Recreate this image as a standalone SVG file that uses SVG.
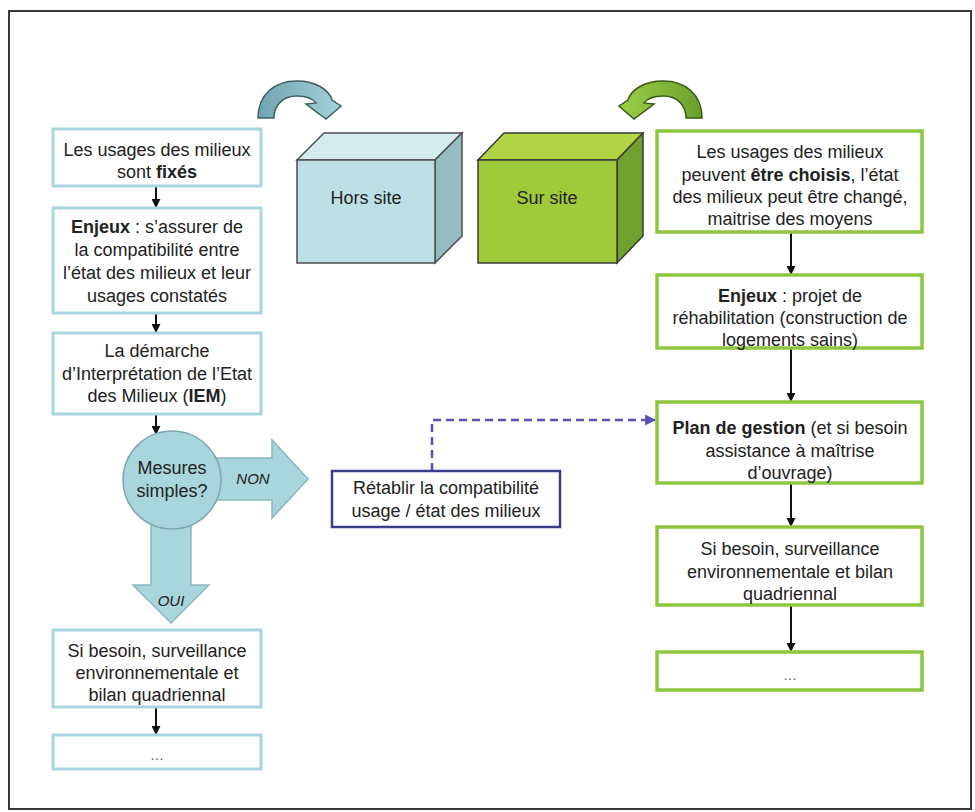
<svg xmlns="http://www.w3.org/2000/svg" width="975" height="812" viewBox="0 0 975 812">
<defs>
<style>
.t{font-family:"Liberation Sans",Arial,sans-serif;font-size:18px;fill:#222;text-anchor:middle}
.b{font-weight:bold}
.lab{font-family:"Liberation Sans",Arial,sans-serif;font-size:15px;font-style:italic;fill:#222;text-anchor:middle}
.lb{fill:#fff;stroke:#a9d6de;stroke-width:3}
.gb{fill:#fff;stroke:#8dc63f;stroke-width:3.5}
.bb{fill:#fff;stroke:#3c3c8c;stroke-width:2.5}
.blk{fill:#a9d5dd;stroke:#8cb6be;stroke-width:1.5}
.cn{stroke:#111;stroke-width:2;fill:none;marker-end:url(#ah)}
.dots{font-family:"Liberation Sans",Arial,sans-serif;font-size:14px;fill:#555;text-anchor:middle}
</style>
<marker id="ah" viewBox="0 0 10 10" refX="9" refY="5" markerWidth="9" markerHeight="9" markerUnits="userSpaceOnUse" orient="auto"><path d="M0,0 L10,5 L0,10 z" fill="#111"/></marker>
<marker id="ahp" viewBox="0 0 10 10" refX="9" refY="5" markerWidth="11" markerHeight="11" markerUnits="userSpaceOnUse" orient="auto"><path d="M0,0 L10,5 L0,10 z" fill="#5a4fb5"/></marker>
<linearGradient id="gblue" x1="0" y1="0" x2="1" y2="0"><stop offset="0" stop-color="#6fa4ae"/><stop offset="1" stop-color="#a6d2da"/></linearGradient>
<linearGradient id="ggreen" x1="0" y1="0" x2="1" y2="0"><stop offset="0" stop-color="#9ccf45"/><stop offset="1" stop-color="#6a9f2c"/></linearGradient>
</defs>
<rect x="0" y="0" width="975" height="812" fill="#fff"/>
<rect x="9" y="11" width="962" height="798" fill="none" stroke="#3a3a3a" stroke-width="2"/>

<g id="arrow-blue">
<path d="M258 118 C258 94 275 81 297 81 C316 81 329 90 332 100 L341 106 L326 119 L306 104 L316 103 C313 99 306 96 297 96 C283 96 274 105 274 118 Z" fill="url(#gblue)" stroke="#3f5f63" stroke-width="1.5"/>
</g>
<g id="arrow-green">
<path d="M702 118 C702 94 685 81 663 81 C644 81 631 90 628 100 L619 106 L634 119 L654 104 L644 103 C647 99 654 96 663 96 C677 96 686 105 686 118 Z" fill="url(#ggreen)" stroke="#3a5a1a" stroke-width="1.5"/>
</g>

<g id="hors-site">
<polygon points="297,160 324,133 462,133 435,160" fill="#d4ecf0" stroke="#4d4d4d" stroke-width="1.5"/>
<polygon points="435,160 462,133 462,236 435,263" fill="#94bcc2" stroke="#4d4d4d" stroke-width="1.5"/>
<rect x="297" y="160" width="138" height="103" fill="#bde0e6" stroke="#4d4d4d" stroke-width="1.5"/>
<text class="t" x="366" y="204">Hors site</text>
</g>
<g id="sur-site">
<polygon points="478,160 504,133 643,133 617,160" fill="#b0d443" stroke="#3a3a3a" stroke-width="1.5"/>
<polygon points="617,160 643,133 643,236 617,263" fill="#72a02f" stroke="#3a3a3a" stroke-width="1.5"/>
<rect x="478" y="160" width="139" height="103" fill="#9fcb3a" stroke="#3a3a3a" stroke-width="1.5"/>
<text class="t" x="547" y="204">Sur site</text>
</g>

<g id="connectors">
<line class="cn" x1="156" y1="186" x2="156" y2="207"/>
<line class="cn" x1="156" y1="313" x2="156" y2="332"/>
<line class="cn" x1="156" y1="415" x2="156" y2="434"/>
<line class="cn" x1="156" y1="708" x2="156" y2="734"/>
<line class="cn" x1="791" y1="233" x2="791" y2="274"/>
<line class="cn" x1="791" y1="349" x2="791" y2="401"/>
<line class="cn" x1="791" y1="484" x2="791" y2="526"/>
<line class="cn" x1="791" y1="606" x2="791" y2="651"/>
<path d="M432 471 V420 H655" fill="none" stroke="#5a4fb5" stroke-width="2.5" stroke-dasharray="8,5" marker-end="url(#ahp)"/>
<polygon id="arrow-non" class="blk" points="205,458 272,458 272,440 308,479 272,518 272,500 205,500"/>
<polygon id="arrow-oui" class="blk" points="151,515 191,515 191,585 209,585 171,623 133,585 151,585"/>
<text class="lab" x="253" y="484">NON</text>
<text class="lab" x="171" y="606">OUI</text>
</g>

<g id="L1">
<rect class="lb" x="53" y="129" width="208" height="57"/>
<text class="t" x="157" y="156">Les usages des milieux</text>
<text class="t" x="157" y="178">sont <tspan class="b">fixés</tspan></text>
</g>
<g id="L2">
<rect class="lb" x="53" y="208" width="208" height="105"/>
<text class="t" x="157" y="233"><tspan class="b">Enjeux</tspan> : s’assurer de</text>
<text class="t" x="157" y="256">la compatibilité entre</text>
<text class="t" x="157" y="279">l’état des milieux et leur</text>
<text class="t" x="157" y="302">usages constatés</text>
</g>
<g id="L3">
<rect class="lb" x="53" y="333" width="208" height="81"/>
<text class="t" x="157" y="357">La démarche</text>
<text class="t" x="157" y="380">d’Interprétation de l’Etat</text>
<text class="t" x="157" y="402">des Milieux (<tspan class="b">IEM</tspan>)</text>
</g>
<g id="decision">
<circle cx="172" cy="480" r="49" fill="#a9d5dd" stroke="#7fa9b1" stroke-width="1.5"/>
<text class="t" x="172" y="474">Mesures</text>
<text class="t" x="172" y="497">simples?</text>
</g>
<g id="L4">
<rect class="lb" x="53" y="630" width="208" height="77"/>
<text class="t" x="157" y="657">Si besoin, surveillance</text>
<text class="t" x="157" y="679">environnementale et</text>
<text class="t" x="157" y="701">bilan quadriennal</text>
</g>
<g id="L5">
<rect class="lb" x="53" y="735" width="208" height="34"/>
<text class="dots" x="157" y="760">…</text>
</g>

<g id="retablir">
<rect class="bb" x="332" y="471" width="228" height="56"/>
<text class="t" x="446" y="494">Rétablir la compatibilité</text>
<text class="t" x="446" y="517">usage / état des milieux</text>
</g>

<g id="R1">
<rect class="gb" x="657" y="131" width="265" height="101"/>
<text class="t" x="790" y="158">Les usages des milieux</text>
<text class="t" x="790" y="181">peuvent <tspan class="b">être choisis</tspan>, l’état</text>
<text class="t" x="790" y="203">des milieux peut être changé,</text>
<text class="t" x="790" y="225">maitrise des moyens</text>
</g>
<g id="R2">
<rect class="gb" x="657" y="275" width="265" height="73"/>
<text class="t" x="790" y="302"><tspan class="b">Enjeux</tspan> : projet de</text>
<text class="t" x="790" y="324">réhabilitation (construction de</text>
<text class="t" x="790" y="346">logements sains)</text>
</g>
<g id="R3">
<rect class="gb" x="657" y="402" width="265" height="81"/>
<text class="t" x="790" y="434"><tspan class="b">Plan de gestion</tspan> (et si besoin</text>
<text class="t" x="790" y="457">assistance à maîtrise</text>
<text class="t" x="790" y="479">d’ouvrage)</text>
</g>
<g id="R4">
<rect class="gb" x="657" y="527" width="265" height="78"/>
<text class="t" x="790" y="555">Si besoin, surveillance</text>
<text class="t" x="790" y="578">environnementale et bilan</text>
<text class="t" x="790" y="600">quadriennal</text>
</g>
<g id="R5">
<rect class="gb" x="657" y="652" width="265" height="38"/>
<text class="dots" x="790" y="680">…</text>
</g>
</svg>
